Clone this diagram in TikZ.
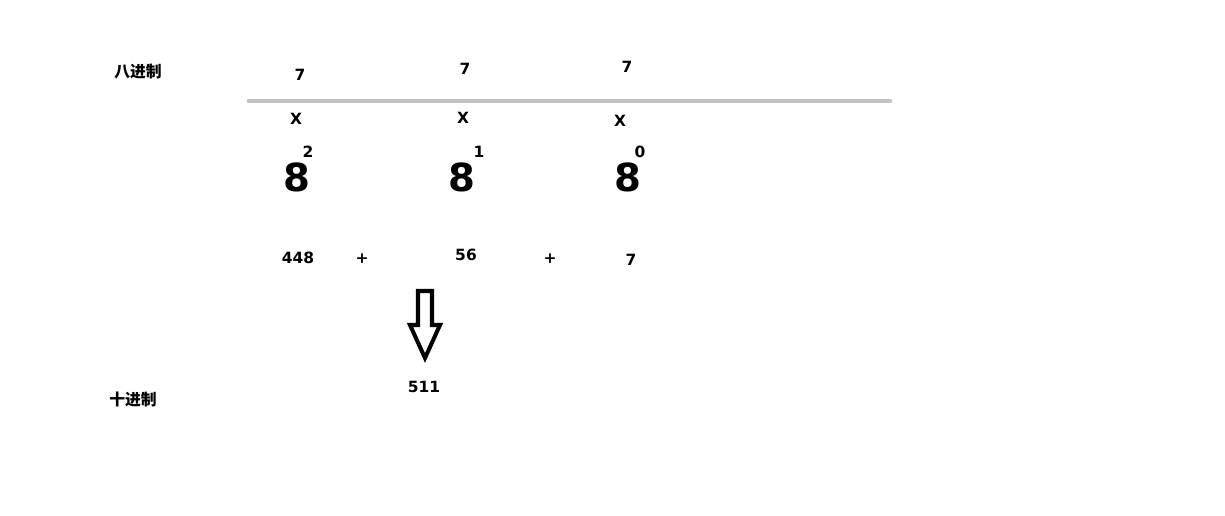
\documentclass[tikz,border=0pt]{standalone}
\usepackage{fontspec}
\setmainfont{DejaVu Sans}
\newfontfamily\cjk{Noto Sans CJK SC}
\usepackage{tikz}
\usetikzlibrary{arrows,positioning}

\tikzset{
  numtxt/.style={font=\fontsize{8.8}{10}\selectfont\bfseries, inner sep=0pt},
  bigtxt/.style={font=\fontsize{22}{24}\selectfont\bfseries, inner sep=0pt},
  cntxt/.style={font=\cjk\fontsize{9}{11}\selectfont\bfseries, inner sep=0pt},
}

\begin{document}
\begin{tikzpicture}[x=0.02cm, y=-0.02cm]
\useasboundingbox (0,0) rectangle (1225,515);
%%%%% Labels %%%%%
\node[cntxt] (oct) at (138,72) {八进制};
\node[cntxt] (dec) at (133,400) {十进制};
%%%%% Digits, bar, powers %%%%%
\draw[color=black!24, line width=2.8pt, line cap=round] (249,101)--(890,101);
\foreach \n/\x/\yd/\xx/\yx/\xe/\ye/\p in {a/300/75/296/119/297/308/2, b/465/69/463/118/462/479/1, c/627/67/620/121/628/640/0}{
\node[numtxt] (d\n) at (\x,\yd) {7};
\node[numtxt] (x\n) at (\xx,\yx) {X};
\node[bigtxt] (e\n) at (\xe,177) {8};
\node[numtxt] (p\n) at (\ye,152) {\p};
}
%%%%% Sum %%%%%
\node[numtxt] (sa) at (298,258) {448};
\node[numtxt] (pa) at (362,259) {+};
\node[numtxt] (sb) at (466,255) {56};
\node[numtxt] (pb) at (550,259) {+};
\node[numtxt] (sc) at (631,260) {7};
\node[numtxt] (res) at (424,387) {511};
%%%%% Arrow %%%%%
\draw[line width=2.3pt, line join=miter] (418,291)--(432,291)--(432,325)--(440,325)--(425,358)--(410,325)--(418,325)--cycle;
\end{tikzpicture}
\end{document}
